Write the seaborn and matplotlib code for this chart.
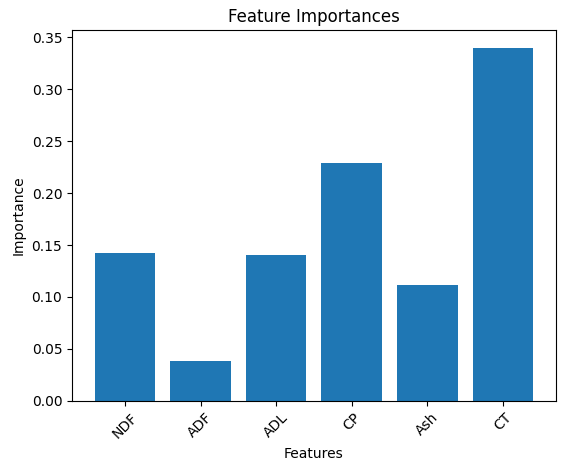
import matplotlib
matplotlib.use("Agg")
import matplotlib.pyplot as plt
import seaborn as sns
import pandas as pd

features = ["NDF", "ADF", "ADL", "CP", "Ash", "CT"]
importances = [0.142, 0.038, 0.140, 0.229, 0.112, 0.340]

df = pd.DataFrame({"Features": features, "Importance": importances})
fig, ax = plt.subplots(figsize=(5.76, 4.71), dpi=100)
sns.barplot(data=df, x="Features", y="Importance", color="#1f77b4", saturation=1, width=0.8, ax=ax)
ax.set_title("Feature Importances")
ax.set_xlabel("Features")
ax.set_ylabel("Importance")
ax.set_xlim(-0.7, 5.7)
ax.set_yticks([0, 0.05, 0.1, 0.15, 0.2, 0.25, 0.3, 0.35])
ax.tick_params(axis="x", rotation=45)
fig.subplots_adjust(left=0.125, right=0.965, top=0.936, bottom=0.149)
fig.savefig("out.png")
